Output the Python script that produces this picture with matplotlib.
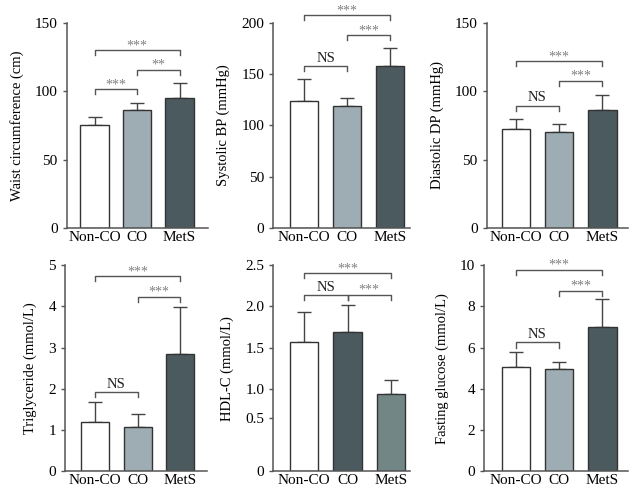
import matplotlib
matplotlib.use('Agg')
import matplotlib.pyplot as plt

plt.rcParams['font.family'] = ['Liberation Serif', 'DejaVu Serif']

groups = ['Non-CO', 'CO', 'MetS']

# means and upper SD for each panel
waist_mean = [75, 86, 95]
waist_sd = [6, 5, 11]
sbp_mean = [124, 119, 158]
sbp_sd = [21, 8, 17]
dbp_mean = [72, 70, 86]
dbp_sd = [8, 6, 11]
tg_mean = [1.20, 1.08, 2.85]
tg_sd = [0.47, 0.30, 1.13]
hdl_mean = [1.57, 1.69, 0.94]
hdl_sd = [0.36, 0.32, 0.17]
glu_mean = [5.05, 4.95, 7.0]
glu_sd = [0.75, 0.35, 1.35]

# significance brackets: (i, j, height, label)
waist_sig = [(0, 1, 101.5, '***'), (1, 2, 115.5, '**'), (0, 2, 130, '***')]
sbp_sig = [(0, 1, 158, 'NS'), (1, 2, 188, '***'), (0, 2, 207.5, '***')]
dbp_sig = [(0, 1, 89.5, 'NS'), (1, 2, 107.5, '***'), (0, 2, 122, '***')]
tg_sig = [(0, 1, 1.93, 'NS'), (1, 2, 4.23, '***'), (0, 2, 4.73, '***')]
hdl_sig = [(0, 1, 2.14, 'NS'), (1, 2, 2.14, '***'), (0, 2, 2.40, '***')]
glu_sig = [(0, 1, 6.25, 'NS'), (1, 2, 8.75, '***'), (0, 2, 9.76, '***')]

white = '#ffffff'
light = '#9eacb3'
dark = '#4b5a5e'
mid = '#718685'

W, H = 641, 497
fig = plt.figure(figsize=(W / 100, H / 100), dpi=100)


def make_panel(px_left, px_c0, px_right, px_top, px_bot, spacing,
               means, sds, colors, ylabel, ylim, yticks, yticklabels, sig):
    ax = fig.add_axes([px_left / W, (H - px_bot) / H,
                       (px_right - px_left) / W, (px_bot - px_top) / H])
    x = [0, 1, 2]
    ax.bar(x, means, width=0.66, color=colors, edgecolor='#333333',
           linewidth=1.0, zorder=2)
    ax.errorbar(x, means, yerr=[[0, 0, 0], sds], fmt='none',
                ecolor='#444444', elinewidth=1.0, capsize=5, capthick=1.0,
                zorder=1)
    ax.set_xlim(-(px_c0 - px_left) / spacing, (px_right - px_c0) / spacing)
    ax.set_ylim(*ylim)
    ax.set_yticks(yticks)
    ax.set_yticklabels(yticklabels)
    ax.set_xticks(x)
    ax.set_xticklabels(groups)
    ax.tick_params(axis='x', length=0, labelsize=11, pad=2)
    ax.tick_params(axis='y', length=3, width=1, labelsize=11, color='#555555')
    for s in ['top', 'right']:
        ax.spines[s].set_visible(False)
    for s in ['left', 'bottom']:
        ax.spines[s].set_color('#555555')
        ax.spines[s].set_linewidth(1.1)
    ax.set_ylabel(ylabel, fontsize=10.5, labelpad=8)
    leg = (ylim[1] - ylim[0]) * 0.025
    for i, j, h, lab in sig:
        ax.plot([x[i], x[i], x[j], x[j]], [h - leg, h, h, h - leg],
                color='#555555', lw=1.0, clip_on=False)
        if lab == 'NS':
            ax.text((x[i] + x[j]) / 2, h + leg * 0.2, lab, ha='center',
                    va='bottom', fontsize=10.5, color='#222222')
        else:
            ax.text((x[i] + x[j]) / 2, h - leg * 0.4, lab, ha='center',
                    va='bottom', fontsize=10, color='#808080')
    return ax


top_t, top_b = 22.7, 228
bot_t, bot_b = 265, 471.3

make_panel(66.7, 94.5, 208, top_t, top_b, 42.5, waist_mean, waist_sd,
           [white, light, dark], 'Waist circumference (cm)', (0, 150),
           [0, 50, 100, 150], ['0', '50', '100', '150'], waist_sig)
make_panel(273.3, 304.3, 410, top_t, top_b, 43.0, sbp_mean, sbp_sd,
           [white, light, dark], 'Systolic BP (mmHg)', (0, 200),
           [0, 50, 100, 150, 200], ['0', '50', '100', '150', '200'], sbp_sig)
make_panel(486.7, 515.8, 628, top_t, top_b, 43.3, dbp_mean, dbp_sd,
           [white, light, dark], 'Diastolic DP (mmHg)', (0, 150),
           [0, 50, 100, 150], ['0', '50', '100', '150'], dbp_sig)
make_panel(65, 95.2, 207, bot_t, bot_b, 42.6, tg_mean, tg_sd,
           [white, light, dark], 'Triglyceride (mmol/L)', (0, 5),
           [0, 1, 2, 3, 4, 5], ['0', '1', '2', '3', '4', '5'], tg_sig)
make_panel(273.3, 304.2, 410, bot_t, bot_b, 43.3, hdl_mean, hdl_sd,
           [white, dark, mid], 'HDL-C (mmol/L)', (0, 2.5),
           [0, 0.65, 1.0, 1.5, 2.0, 2.5],
           ['0', '0.5', '1.0', '1.5', '2.0', '2.5'], hdl_sig)
make_panel(484.3, 515.8, 628, bot_t, bot_b, 43.3, glu_mean, glu_sd,
           [white, light, dark], 'Fasting glucose (mmol/L)', (0, 10),
           [0, 2, 4, 6, 8, 10], ['0', '2', '4', '6', '8', '10'], glu_sig)

fig.savefig('out.png', dpi=100)
